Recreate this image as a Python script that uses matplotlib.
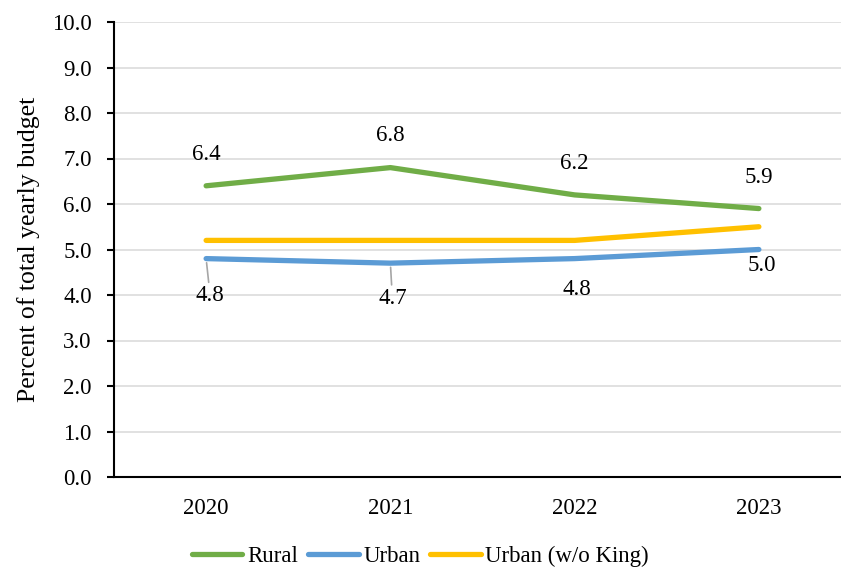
import matplotlib
matplotlib.use("Agg")
import matplotlib.pyplot as plt

plt.rcParams['font.family'] = ['Liberation Serif', 'DejaVu Serif']

years = ['2020', '2021', '2022', '2023']
rural = [6.4, 6.8, 6.2, 5.9]
urban = [4.8, 4.7, 4.8, 5.0]
urban_no_king = [5.2, 5.2, 5.2, 5.5]

GREEN = '#70AD47'
BLUE = '#5B9BD5'
YELLOW = '#FFC000'
FS = 16.5

fig = plt.figure(figsize=(8.41, 5.67), dpi=100)
ax = fig.add_axes([114 / 841, 90 / 567, 737 / 841, 455 / 567])

x = range(len(years))
lw = 3.8
ax.plot(x, rural, color=GREEN, lw=lw, solid_capstyle='round', solid_joinstyle='round', label='Rural', zorder=3)
ax.plot(x, urban, color=BLUE, lw=lw, solid_capstyle='round', solid_joinstyle='round', label='Urban', zorder=3)
ax.plot(x, urban_no_king, color=YELLOW, lw=lw, solid_capstyle='round', solid_joinstyle='round',
        label='Urban (w/o King)', zorder=3)

ax.set_xlim(-0.5, 3.5)
ax.set_ylim(0, 10)
ax.set_yticks([i for i in range(11)])
ax.set_yticklabels([f'{i:.1f}' for i in range(11)])
ax.set_xticks(list(x))
ax.set_xticklabels(years)

ax.grid(axis='y', color='#d9d9d9', lw=1.1)
ax.set_axisbelow(True)
for side in ('top', 'right'):
    ax.spines[side].set_visible(False)
for side in ('left', 'bottom'):
    ax.spines[side].set_linewidth(1.5)
ax.tick_params(axis='y', length=5, width=1.5, pad=11, labelsize=FS)
ax.tick_params(axis='x', length=0, pad=15, labelsize=FS)

ax.set_ylabel('Percent of total yearly budget', fontsize=18.5, labelpad=9)

# value labels: Rural above the line, Urban below
rural_off = [(0, 31), (0, 32), (0, 31), (0, 31)]
for i, v in enumerate(rural):
    ax.annotate(f'{v:.1f}', (i, v), xytext=rural_off[i], textcoords='offset pixels',
                ha='center', va='center', fontsize=FS)

urban_off = [(4, -37), (2, -35), (2, -31), (3, -16)]
leader = [True, True, False, False]
for i, v in enumerate(urban):
    props = None
    if leader[i]:
        props = dict(arrowstyle='-', color='#a6a6a6', lw=1.2, shrinkA=0, shrinkB=3)
    ax.annotate(f'{v:.1f}', (i, v), xytext=urban_off[i], textcoords='offset pixels',
                ha='center', va='center', fontsize=FS, arrowprops=props)

fig.legend(loc='lower center', bbox_to_anchor=(0.5, -0.036), ncol=3, frameon=False,
           fontsize=FS, handlelength=2.2, handletextpad=0.2, columnspacing=0.45)

fig.savefig('out.png', dpi=100)
